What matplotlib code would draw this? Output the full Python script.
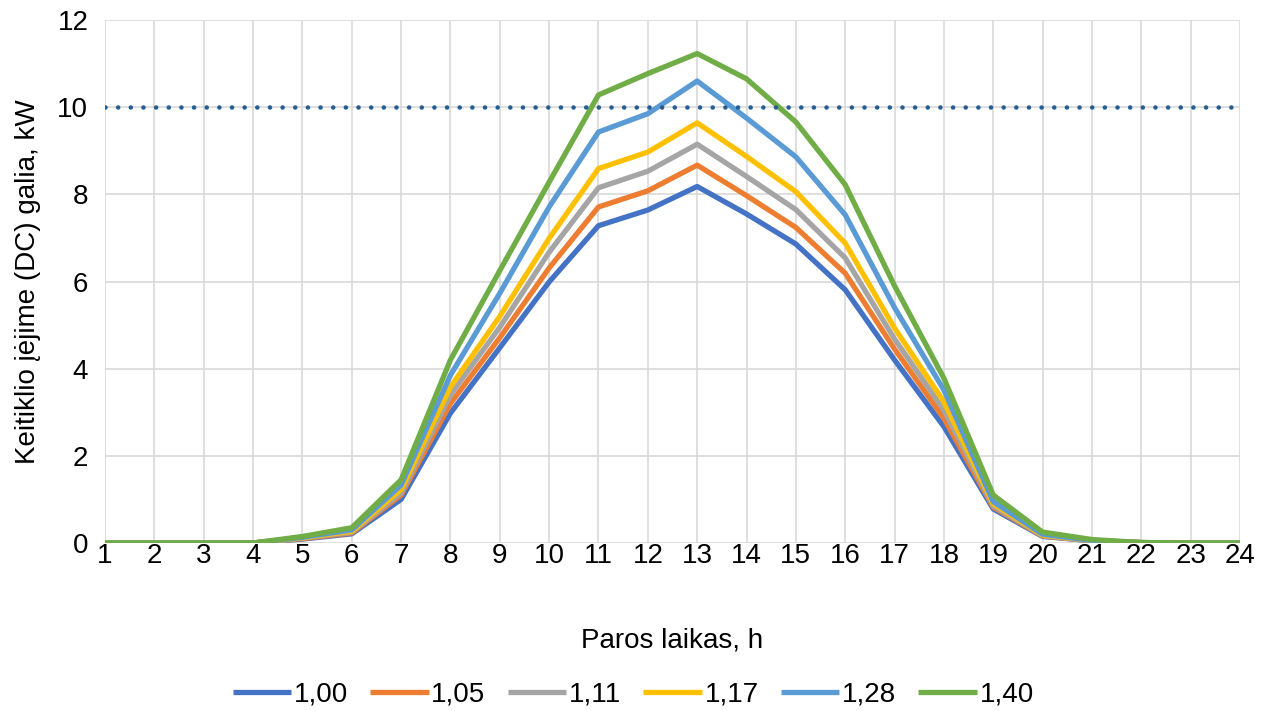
import numpy as np
import matplotlib
matplotlib.use("Agg")
import matplotlib.pyplot as plt

plt.rcParams["font.family"] = ["Liberation Sans", "DejaVu Sans"]

# hour of day and inverter DC input power for each DC/AC ratio
hours = np.arange(1, 25)
ratios = ["1,00", "1,05", "1,11", "1,17", "1,28", "1,40"]
power_100 = [0, 0, 0, 0, 0.09, 0.21, 1.00, 2.98, 4.48, 5.99, 7.28, 7.64,
             8.18, 7.55, 6.86, 5.81, 4.20, 2.67, 0.78, 0.15, 0.05, 0.01, 0, 0]
power_105 = [0, 0, 0, 0, 0.10, 0.23, 1.10, 3.20, 4.71, 6.31, 7.71, 8.08,
             8.67, 7.97, 7.24, 6.19, 4.45, 2.86, 0.82, 0.16, 0.05, 0.01, 0, 0]
power_111 = [0, 0, 0, 0, 0.11, 0.25, 1.15, 3.40, 4.95, 6.67, 8.15, 8.53,
             9.15, 8.41, 7.65, 6.54, 4.68, 3.05, 0.85, 0.17, 0.05, 0.01, 0, 0]
power_117 = [0, 0, 0, 0, 0.12, 0.27, 1.23, 3.58, 5.20, 6.99, 8.59, 8.97,
             9.64, 8.87, 8.06, 6.88, 4.93, 3.24, 0.90, 0.18, 0.06, 0.01, 0, 0]
power_128 = [0, 0, 0, 0, 0.13, 0.30, 1.33, 3.85, 5.73, 7.71, 9.43, 9.85,
             10.60, 9.75, 8.86, 7.53, 5.40, 3.51, 0.95, 0.20, 0.06, 0.01, 0, 0]
power_140 = [0, 0, 0, 0, 0.15, 0.35, 1.45, 4.20, 6.25, 8.28, 10.28, 10.77,
             11.23, 10.65, 9.66, 8.22, 5.90, 3.78, 1.10, 0.25, 0.08, 0.01, 0, 0]
inverter_limit = 10

series = [power_100, power_105, power_111, power_117, power_128, power_140]
colors = ["#4472C4", "#ED7D31", "#A5A5A5", "#FFC000", "#5B9BD5", "#70AD47"]

fs = 20

fig = plt.figure(figsize=(12.74, 7.11), dpi=100)
ax = fig.add_axes([105 / 1274, 1 - 543 / 711, 1135 / 1274, 523 / 711])

for vals, lab, col in zip(series, ratios, colors):
    ax.plot(hours, vals, color=col, lw=3.8, label=lab, solid_joinstyle="round",
            solid_capstyle="butt", zorder=3)

# inverter AC limit
ax.plot([hours[0], hours[-1]], [inverter_limit, inverter_limit], color="#255E91",
        lw=3.3, linestyle=(0, (0.01, 2.75)), dash_capstyle="round", zorder=4)

ax.set_xlim(1, 24)
ax.set_ylim(0, 12)
ax.set_xticks(hours)
ax.set_yticks(np.arange(0, 13, 2))
ax.grid(True, color="#D9D9D9", lw=1.2)
ax.set_axisbelow(True)
for s in ax.spines.values():
    s.set_visible(False)
ax.tick_params(length=0, labelsize=fs, colors="black")
ax.tick_params(axis="y", pad=12)
ax.tick_params(axis="x", pad=0)
ax.set_xlabel("Paros laikas, h", fontsize=fs, labelpad=42)
ax.set_ylabel("Keitiklio įėjime (DC) galia, kW", fontsize=fs, labelpad=12)

fig.legend(loc="lower center", bbox_to_anchor=(0.497, -0.03), ncol=6, frameon=False,
           fontsize=fs, handlelength=2.1, columnspacing=0.8, handletextpad=0.1)

fig.savefig("out.png", dpi=100)
